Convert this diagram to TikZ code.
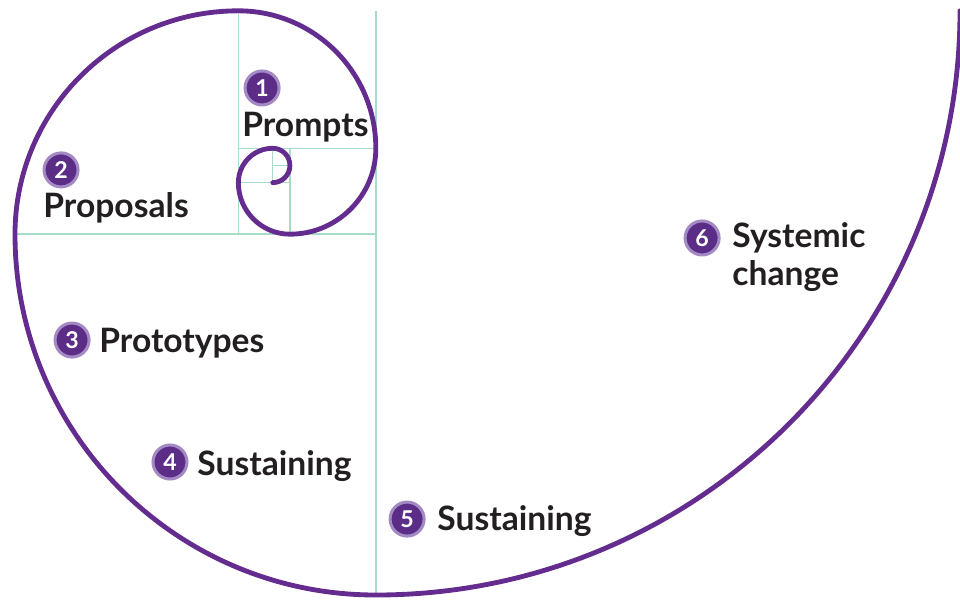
\documentclass[tikz,border=0pt]{standalone}
\usepackage{fontspec}
\setmainfont{Lato}
\definecolor{spiralpurple}{HTML}{652C8F}
\definecolor{numpurple}{HTML}{5C2D87}
\definecolor{ringpurple}{HTML}{A48AC4}
\definecolor{gridmint}{HTML}{A8DCC6}
\definecolor{inkgray}{HTML}{231F20}
\begin{document}
\begin{tikzpicture}[x=0.3cm, y=0.3cm,
  grid/.style={gridmint, line width=0.75pt},
  spiral/.style={spiralpurple, line width=2.4pt, line cap=round},
  num/.style={circle, fill=numpurple, draw=ringpurple, line width=1.5pt, minimum size=16.9pt, inner sep=0pt, text=white, font=\bfseries\fontsize{11.5}{12}\selectfont},
  lbl/.style={anchor=base west, inner sep=0pt, text=inkgray, align=left, font=\bfseries\fontsize{16.7}{18.9}\selectfont}]

  \useasboundingbox (-0.873, -0.291) rectangle (55.0, 34.63);

  \draw[grid] (21, 0) -- (21, 34);
  \draw[grid] (13, 21) -- (13, 34);
  \draw[grid] (0, 21) -- (21, 21);
  \draw[grid] (13, 26) -- (21, 26);
  \draw[grid] (16, 21) -- (16, 26);
  \draw[grid] (13, 24) -- (16, 24);
  \draw[grid] (15, 24) -- (15, 26);
  \draw[grid] (15, 25) -- (16, 25);

  \draw[spiral] (55, 34)
    \foreach \r/\a in {34/0, 21/-90, 13/-180, 8/-270, 5/-360, 3/-450, 2/-540, 1/-630, 1/-720} {
      arc[start angle=\a, delta angle=-90, radius=\r]
    };

  \node[num] (n1) at (14.38, 29.51) {1};
  \node[num] (n2) at (2.68, 24.74) {2};
  \node[num] (n3) at (3.32, 14.84) {3};
  \node[num] (n4) at (9.02, 7.74) {4};
  \node[num] (n5) at (22.82, 4.42) {5};
  \node[num] (n6) at (39.99, 20.78) {6};

  \node[lbl] (prompts) at (13.21, 26.66) {Prompts};
  \node[lbl] (proposals) at (1.63, 22.0) {Proposals};
  \node[lbl] (prototypes) at (4.89, 14.14) {Prototypes};
  \node[lbl] (sustainA) at (10.59, 6.98) {Sustaining};
  \node[lbl] (sustainB) at (24.56, 3.78) {Sustaining};
  \node[lbl] (systemic) at (41.73, 18.04) {Systemic\\change};
\end{tikzpicture}
\end{document}
